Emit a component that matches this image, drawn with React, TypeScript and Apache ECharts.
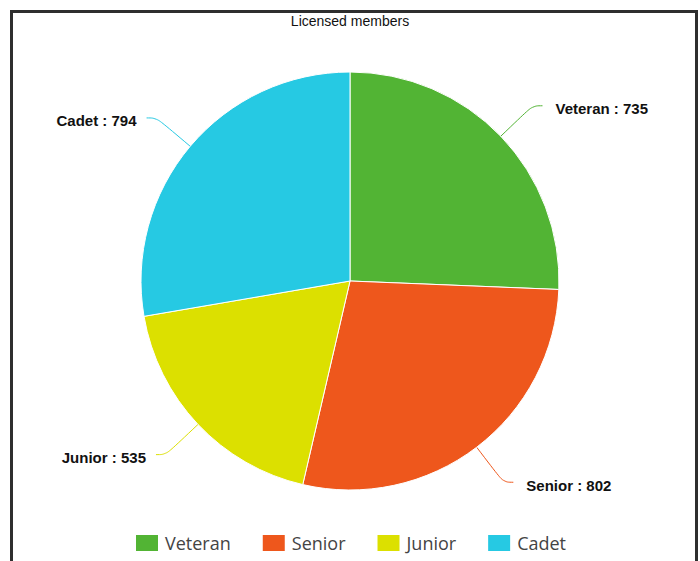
import React, { useEffect, useRef } from "react";
import * as echarts from "echarts";

const titleText = "Licensed members";
const categories = ["Veteran", "Senior", "Junior", "Cadet"];
const values = [735, 802, 535, 794];
const colors = ["#52b434", "#ee571c", "#dce000", "#26c9e3"];

export default function App() {
  const ref = useRef<HTMLDivElement>(null);
  useEffect(() => {
    if (!ref.current) return;
    const chart = echarts.init(ref.current, null, { renderer: "svg" });
    chart.setOption({
      animation: false,
      backgroundColor: "#ffffff",
      color: colors,
      title: {
        text: titleText,
        left: "center",
        top: 9,
        textStyle: {
          fontFamily: "Liberation Sans, Arial, sans-serif",
          fontSize: 14,
          fontWeight: "normal",
          color: "#111",
        },
      },
      graphic: [
        {
          type: "rect",
          shape: { x: 11.5, y: 11.5, width: 685, height: 700 },
          style: { fill: "none", stroke: "#2e2e2e", lineWidth: 3 },
          silent: true,
          z: 100,
        },
      ],
      legend: {
        bottom: 3,
        left: 129,
        itemWidth: 24,
        itemHeight: 18,
        itemGap: 30,
        icon: "rect",
        textStyle: {
          fontFamily: "Open Sans, sans-serif",
          fontSize: 18,
          color: "#444",
          padding: [0, 0, 0, 1],
        },
        data: categories,
      },
      series: [
        {
          type: "pie",
          center: [350, 281],
          radius: [0, 209],
          startAngle: 90,
          clockwise: true,
          avoidLabelOverlap: false,
          data: categories.map((c, i) => ({ name: c, value: values[i] })),
          itemStyle: { borderColor: "#ffffff", borderWidth: 1 },
          label: {
            show: true,
            formatter: "{b} : {c}",
            fontFamily: "Liberation Sans, Arial, sans-serif",
            fontWeight: "bold",
            fontSize: 15,
            color: "#111",
            distanceToLabelLine: 10,
            padding: [0, 0, 0, 3],
          },
          labelLayout: { dy: 3 },
          labelLine: {
            show: true,
            length: 44,
            length2: 10,
            smooth: 0.4,
            lineStyle: { width: 1 },
          },
          emphasis: { disabled: true },
        },
      ],
    });
    return () => chart.dispose();
  }, []);
  return (
    <div
      ref={ref}
      style={{ position: "fixed", left: 0, top: 0, width: 700, height: 561 }}
    />
  );
}
